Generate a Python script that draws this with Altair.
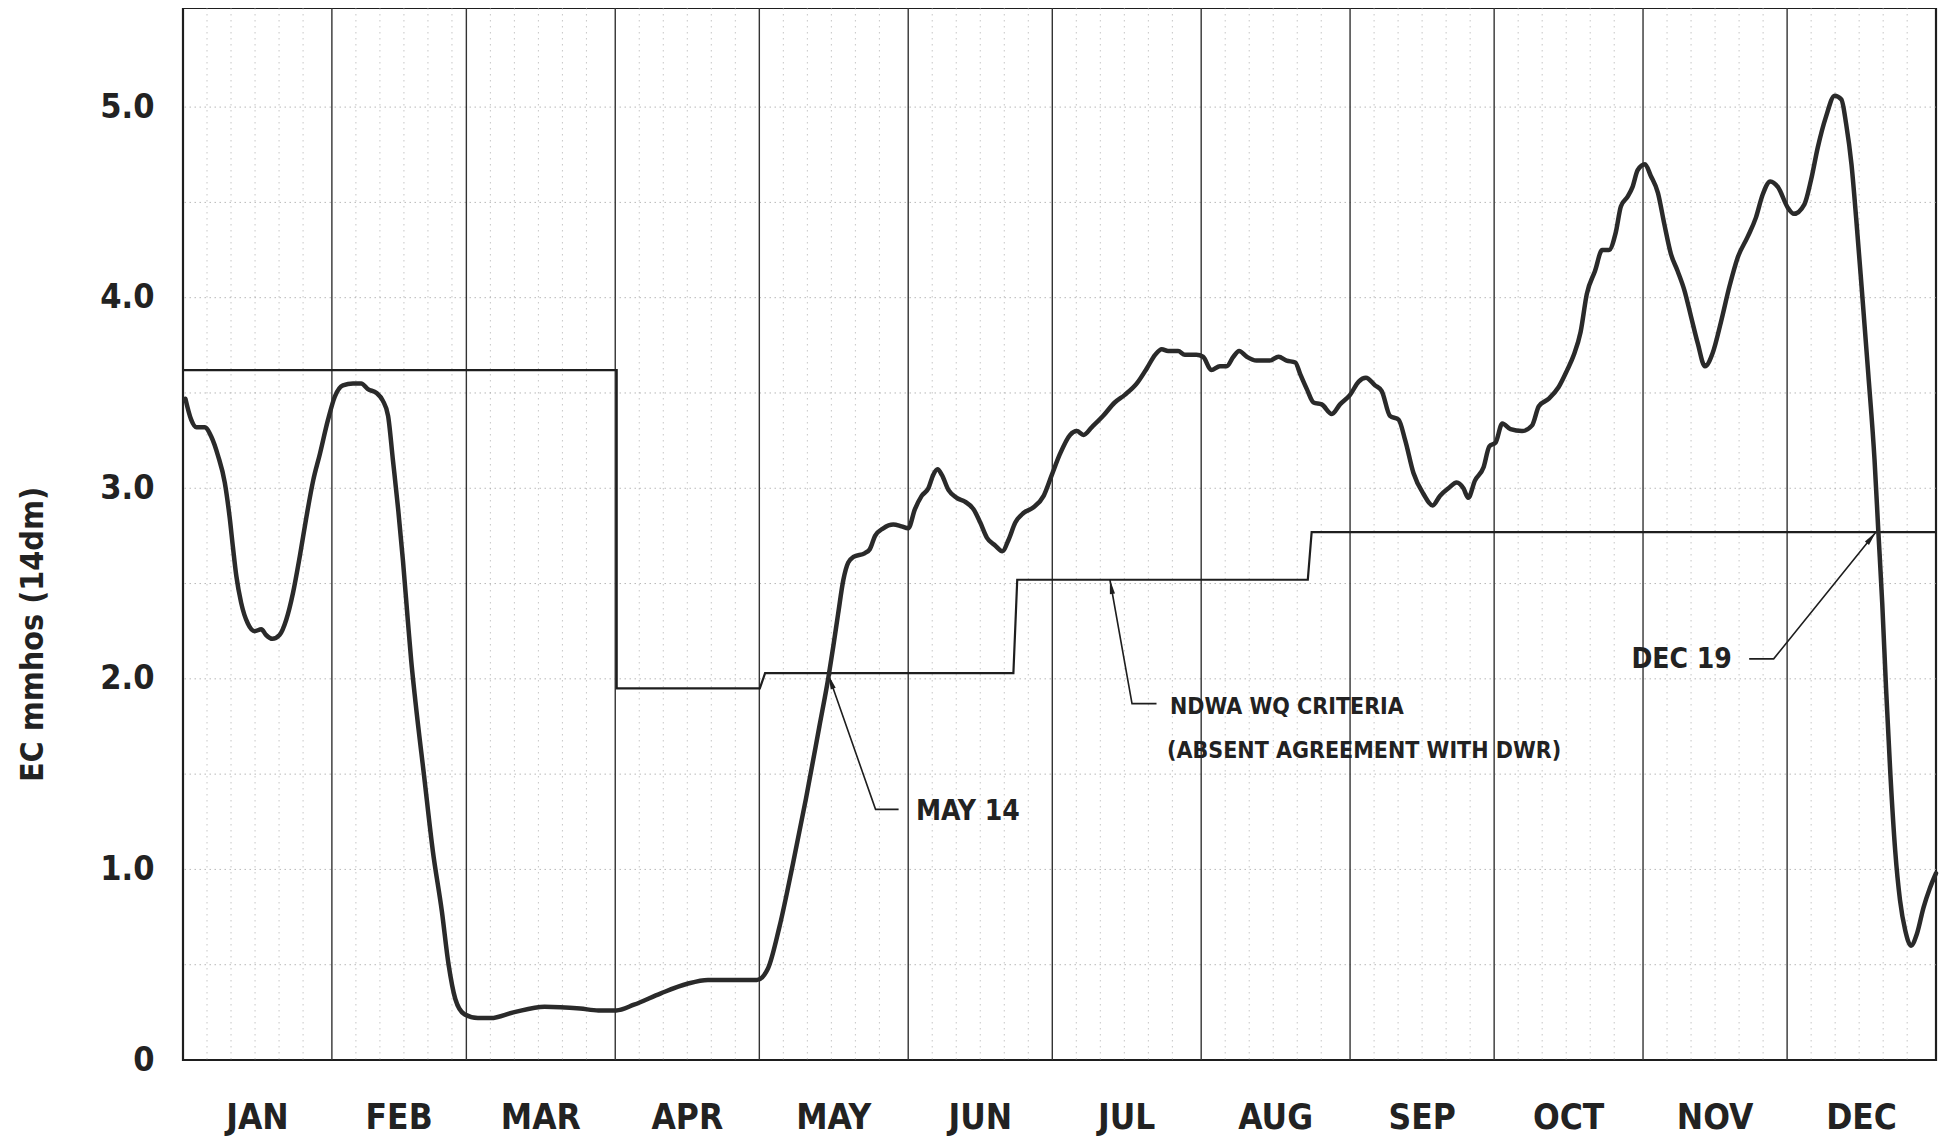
import math
import altair as alt
import pandas as pd

# ---------------- data ----------------
months = ["JAN", "FEB", "MAR", "APR", "MAY", "JUN", "JUL", "AUG", "SEP", "OCT", "NOV", "DEC"]
month_days = [31, 28, 31, 30, 31, 30, 31, 31, 30, 31, 30, 31]

# EC (14-day mean), day of year vs mmhos
ec_day = [0.5, 1.7, 2.8, 4.5, 5.9, 7.3, 8.7, 9.7, 10.4, 11.1, 12.1, 13.5, 14.9, 16.3, 17.3, 18.6,
          20.1, 21.5, 22.9, 24.3, 25.7, 27.1, 28.5, 30.2, 31.6, 33.3, 35.4, 37.1, 38.5, 40.3, 41.6,
          42.7, 43.7, 44.8, 45.8, 46.8, 47.5, 48.4, 50.2, 52.0, 53.9, 55.3, 56.7, 58.6, 61.4, 64.1,
          68.8, 75.3, 82.7, 86.5, 90.2, 93.9, 99.5, 105.0, 109.3, 113.9, 119.5, 121.8, 124.2, 127.0,
          129.7, 132.5, 134.4, 135.4, 136.4, 137.5, 138.5, 139.6, 142.0, 143.0, 144.1, 145.8, 147.9,
          149.6, 151.0, 152.4, 153.8, 155.2, 156.2, 157.1, 158.0, 159.4, 161.1, 162.8, 164.6, 166.0,
          167.4, 169.1, 170.6, 171.9, 173.3, 175.0, 177.1, 179.2, 180.9, 182.6, 184.7, 186.1, 187.5,
          189.2, 191.6, 194.0, 196.1, 198.6, 200.7, 202.4, 203.8, 205.1, 207.2, 208.6, 211.0, 212.4,
          214.1, 215.9, 217.3, 218.7, 219.9, 221.5, 223.5, 226.3, 228.1, 229.8, 231.6, 232.6, 234.0,
          235.4, 237.1, 239.2, 240.9, 243.0, 244.8, 246.3, 248.2, 249.6, 251.3, 253.1, 254.5, 256.2,
          258.3, 260.2, 261.7, 263.5, 265.2, 266.6, 267.6, 269.0, 270.8, 272.0, 273.3, 274.7, 276.4,
          278.8, 280.9, 282.3, 284.4, 286.4, 288.2, 289.6, 291.0, 292.3, 294.0, 295.5, 296.9, 298.3,
          299.4, 300.8, 301.8, 302.9, 304.4, 305.6, 307.1, 308.4, 309.8, 311.2, 312.6, 314.0, 315.4,
          316.9, 318.5, 320.2, 322.0, 323.7, 325.8, 327.5, 328.9, 330.5, 332.1, 334.2, 335.4, 337.6,
          339.0, 340.4, 342.1, 343.9, 345.3, 346.3, 347.4, 348.4, 349.5, 350.9, 352.2, 353.0, 353.8,
          354.6, 355.5, 356.5, 357.5, 358.6, 359.8, 361.0, 362.4, 363.7, 365.0]
ec_value = [3.47, 3.36, 3.32, 3.32, 3.27, 3.17, 3.03, 2.85, 2.69, 2.54, 2.40, 2.29, 2.25, 2.26, 2.23, 2.21,
            2.23, 2.31, 2.45, 2.64, 2.85, 3.04, 3.18, 3.36, 3.48, 3.54, 3.55, 3.55, 3.52, 3.50, 3.46,
            3.38, 3.15, 2.89, 2.62, 2.31, 2.10, 1.88, 1.49, 1.10, 0.78, 0.50, 0.32, 0.24, 0.22, 0.22,
            0.25, 0.28, 0.27, 0.26, 0.26, 0.29, 0.35, 0.40, 0.42, 0.42, 0.42, 0.48, 0.70, 1.03,
            1.37, 1.75, 2.01, 2.17, 2.34, 2.52, 2.61, 2.64, 2.66, 2.68, 2.75, 2.79, 2.81,
            2.80, 2.79, 2.89, 2.96, 3.00, 3.07, 3.10, 3.07, 2.99, 2.95, 2.93, 2.89, 2.82,
            2.74, 2.70, 2.67, 2.73, 2.82, 2.87, 2.90, 2.96, 3.07, 3.18, 3.28, 3.30, 3.28,
            3.32, 3.38, 3.45, 3.49, 3.55, 3.63, 3.70, 3.73, 3.72, 3.72, 3.70, 3.70, 3.69,
            3.62, 3.64, 3.64, 3.69, 3.72, 3.69, 3.67, 3.67, 3.69, 3.67, 3.66, 3.60, 3.52,
            3.45, 3.44, 3.39, 3.44, 3.49, 3.56, 3.58, 3.54, 3.51, 3.38, 3.36, 3.25, 3.08,
            2.97, 2.91, 2.96, 3.00, 3.03, 3.00, 2.95, 3.04, 3.11, 3.22, 3.24, 3.34, 3.31,
            3.30, 3.33, 3.43, 3.47, 3.53, 3.62, 3.70, 3.82, 4.02, 4.14, 4.25, 4.25, 4.34,
            4.48, 4.53, 4.58, 4.67, 4.70, 4.64, 4.55, 4.39, 4.23, 4.14, 4.04, 3.90, 3.76,
            3.64, 3.71, 3.87, 4.06, 4.21, 4.32, 4.42, 4.54, 4.61, 4.58, 4.47, 4.44, 4.49,
            4.62, 4.79, 4.95, 5.06, 5.04, 4.91, 4.70, 4.41, 4.06, 3.60, 3.15, 2.77, 2.40,
            1.95, 1.50, 1.10, 0.84, 0.68, 0.60, 0.66, 0.80, 0.90, 0.98]

# NDWA water-quality criteria (step line)
crit_day = [0, 90.3, 90.3, 120.1, 121.2, 172.9, 173.7, 234.2, 235.0, 365]
crit_value = [3.62, 3.62, 1.95, 1.95, 2.03, 2.03, 2.52, 2.52, 2.77, 2.77]

# annotation leader lines: (text end -> elbow -> arrow tip)
lead_names = ["MAY 14", "NDWA", "DEC 19"]
lead_day = [[149.0, 144.2, 134.4], [202.7, 197.6, 193.0], [326.1, 331.2, 352.5]]
lead_value = [[1.315, 1.315, 2.02], [1.87, 1.87, 2.52], [2.105, 2.105, 2.77]]

note_text = ["MAY 14", "NDWA WQ CRITERIA", "(ABSENT AGREEMENT WITH DWR)", "DEC 19"]
note_day = [152.6, 205.5, 204.9, 322.5]
note_value = [1.30, 1.85, 1.62, 2.10]

y_ticks = [0, 1, 2, 3, 4, 5]
y_grid = [0.5, 1.0, 1.5, 2.0, 2.5, 3.0, 3.5, 4.0, 4.5, 5.0]

# ---------------- layout constants ----------------
W, H = 1753, 1052
Y_MAX = 5.52
FONT = "Liberation Sans Narrow, DejaVu Sans Condensed, Liberation Sans, sans-serif"
INK = "#222222"

month_start = [sum(month_days[:i]) for i in range(12)]
month_mid = [month_start[i] + month_days[i] / 2 for i in range(12)]

xs = alt.Scale(domain=[0, 365], nice=False, zero=False)
ys = alt.Scale(domain=[0, Y_MAX], nice=False, zero=True)

Y_AXIS = alt.Axis(values=y_ticks, labelExpr="datum.value == 0 ? '0' : format(datum.value, '.1f')",
                  title="EC mmhos (14dm)", domain=False, ticks=False, grid=False,
                  labelFont=FONT, labelFontSize=34, labelFontWeight="bold", labelColor=INK,
                  labelPadding=29,
                  titleFont=FONT, titleFontSize=32, titleFontWeight="bold", titleColor=INK,
                  titleX=-151, titleY=626, titleAngle=270, titleAlign="center",
                  titleBaseline="middle")

ec_df = pd.DataFrame({"day": ec_day, "ec": ec_value})
crit_df = pd.DataFrame({"day": crit_day, "ec": crit_value, "i": range(len(crit_day))})
month_df = pd.DataFrame({"month": months, "mid": month_mid})
bound_df = pd.DataFrame({"day": month_start[1:]})
vgrid_df = pd.DataFrame({"day": [s + k for s, n in zip(month_start, month_days) for k in (5, 10, 15, 20, 25)]})
hgrid_df = pd.DataFrame({"ec": y_grid})

lead_rows = []
head_rows = []
ppd = W / 365.0
ppu = H / Y_MAX
for name, ds, vs in zip(lead_names, lead_day, lead_value):
    for j, (d, v) in enumerate(zip(ds, vs)):
        lead_rows.append({"name": name, "order": j, "day": d, "ec": v})
    dx = (ds[2] - ds[1]) * ppd
    dy = (vs[2] - vs[1]) * ppu
    ang = math.degrees(math.atan2(dx, dy)) % 360
    head_rows.append({"name": name, "day": ds[2], "ec": vs[2], "angle": ang})
lead_df = pd.DataFrame(lead_rows)
head_df = pd.DataFrame(head_rows)

note_df = pd.DataFrame({"text": note_text, "day": note_day, "ec": note_value})


def X():
    return alt.X("day:Q", scale=xs, axis=None)


def Y():
    return alt.Y("ec:Q", scale=ys, axis=Y_AXIS)


hgrid = alt.Chart(hgrid_df).mark_rule(color="#a0a0a0", strokeDash=[1.5, 3.5], strokeWidth=1, opacity=0.75).encode(
    y=Y())
vgrid = alt.Chart(vgrid_df).mark_rule(color="#a0a0a0", strokeDash=[1.5, 4.5], strokeWidth=1, opacity=0.6).encode(
    x=X())
bounds = alt.Chart(bound_df).mark_rule(color="#333333", strokeWidth=1.4).encode(x=X())

crit = alt.Chart(crit_df).mark_line(color="#1e1e1e", strokeWidth=2.2).encode(
    x=X(), y=Y(), order="i:Q")

ec_line = alt.Chart(ec_df).mark_line(color="#2a2a2a", strokeWidth=4.5, interpolate="monotone",
                                     strokeJoin="round", strokeCap="round").encode(x=X(), y=Y())

leads = alt.Chart(lead_df).mark_line(color="#1e1e1e", strokeWidth=1.6).encode(
    x=X(), y=Y(), detail="name:N", order="order:Q")
heads = alt.Chart(head_df).mark_point(shape="M0,0L0.4,2.2L-0.4,2.2Z", filled=True, color="#1e1e1e",
                                      size=170, opacity=1).encode(
    x=X(), y=Y(), angle=alt.Angle("angle:Q", scale=None))

note_big = alt.Chart(note_df[note_df.text.isin(["MAY 14"])]).mark_text(
    font=FONT, fontSize=28, fontWeight="bold", color=INK, align="left", baseline="middle").encode(
    x=X(), y=Y(), text="text:N")
note_dec = alt.Chart(note_df[note_df.text.isin(["DEC 19"])]).mark_text(
    font=FONT, fontSize=28, fontWeight="bold", color=INK, align="right", baseline="middle").encode(
    x=X(), y=Y(), text="text:N")
note_small = alt.Chart(note_df[note_df.text.str.contains("NDWA|ABSENT")]).mark_text(
    font=FONT, fontSize=23, fontWeight="bold", color=INK, align="left", baseline="middle").encode(
    x=X(), y=Y(), text="text:N")

month_lbl = alt.Chart(month_df).mark_text(
    font=FONT, fontSize=35, fontWeight="bold", color=INK, align="center", baseline="middle").encode(
    x=alt.X("mid:Q", scale=xs, axis=None), y=alt.value(1110), text="month:N")

chart = alt.layer(hgrid, vgrid, bounds, crit, leads, heads, ec_line, note_big, note_dec, note_small,
                  month_lbl).properties(
    width=W, height=H,
    autosize=alt.AutoSizeParams(type="none"),
    padding={"left": 175, "top": 0, "right": 5, "bottom": 80},
    background="white",
).configure_view(stroke="#1e1e1e", strokeWidth=2.2)

chart.save("out.html", embed_options={"renderer": "svg", "actions": False})
